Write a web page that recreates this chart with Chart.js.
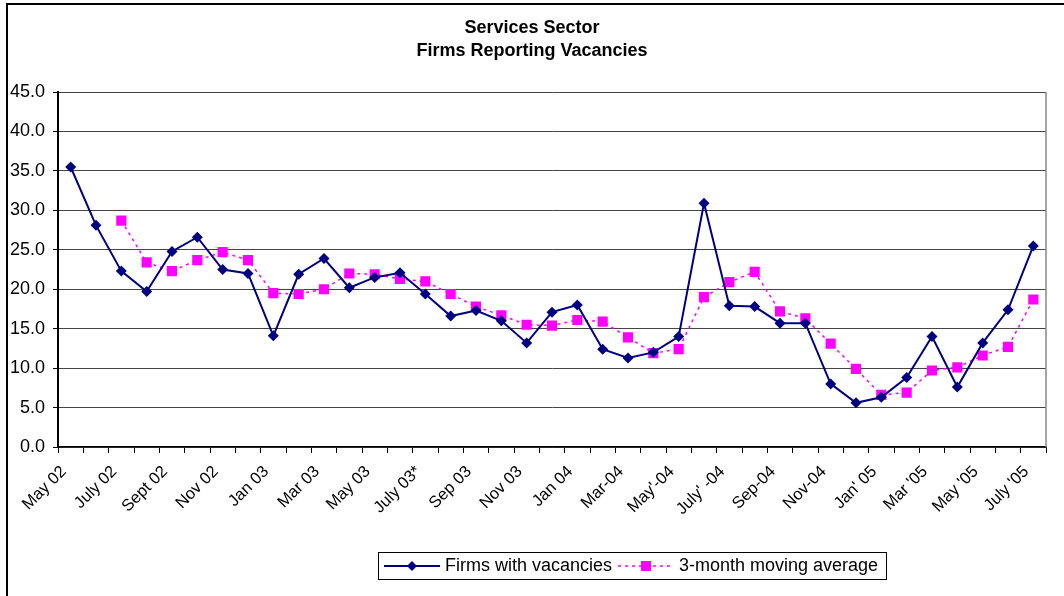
<!DOCTYPE html>
<html>
<head>
<meta charset="utf-8">
<script src="https://cdn.jsdelivr.net/npm/chart.js@4"></script>
<style>
  body { margin: 0; background: #fff; }
  #wrap { width: 1064px; height: 596px; position: relative; }
</style>
</head>
<body>
<div id="wrap"><canvas id="myChart" width="1064" height="596"></canvas></div>
<script>
// months, May 02 .. July 05 (only every second one is labelled on the axis)
var months = ["May 02", "June 02", "July 02", "Aug 02", "Sept 02", "Oct 02", "Nov 02", "Dec 02",
  "Jan 03", "Feb 03", "Mar 03", "Apr 03", "May 03", "June 03", "July 03*", "Aug 03", "Sep 03", "Oct 03",
  "Nov 03", "Dec 03", "Jan 04", "Feb 04", "Mar-04", "Apr-04", "May'-04", "June-04", "July' -04", "Aug-04",
  "Sep-04", "Oct-04", "Nov-04", "Dec-04", "Jan' 05", "Feb '05", "Mar '05", "Apr '05", "May '05", "June '05", "July '05"];

var firmsWithVacancies = [35.5, 28.1, 22.3, 19.7, 24.8, 26.6, 22.5, 22.0, 14.1, 21.9, 23.9, 20.2, 21.5,
  22.1, 19.4, 16.6, 17.3, 16.0, 13.2, 17.1, 18.0, 12.4, 11.3, 12.0, 14.0, 30.9, 17.9, 17.8, 15.7,
  15.7, 8.0, 5.6, 6.3, 8.8, 14.0, 7.6, 13.2, 17.4, 25.5];

var movingAverage = [null, null, 28.7, 23.4, 22.3, 23.7, 24.7, 23.7, 19.5, 19.4, 20.0, 22.0, 21.9,
  21.3, 21.0, 19.4, 17.8, 16.7, 15.5, 15.4, 16.1, 15.9, 13.9, 11.9, 12.4, 19.0, 20.9, 22.2, 17.2,
  16.3, 13.1, 9.9, 6.6, 6.9, 9.7, 10.1, 11.6, 12.7, 18.7];

var yTicks = [0, 5, 10, 15, 20, 25, 30, 35, 40, 45];

var FONT = "'Liberation Sans', Arial, sans-serif";

// little legend sample: line + marker
function legendIcon(color, dash, style) {
    var c = document.createElement('canvas');
    c.width = 56; c.height = 14;
    var g = c.getContext('2d');
    g.strokeStyle = color;
    g.lineWidth = dash ? 1.5 : 2;
    g.setLineDash(dash || []);
    g.beginPath(); g.moveTo(0, 7); g.lineTo(56, 7); g.stroke();
    g.fillStyle = color;
    g.beginPath();
    if (style === 'diamond') {
        g.moveTo(28, 2); g.lineTo(33, 7); g.lineTo(28, 12); g.lineTo(23, 7);
    } else {
        g.rect(23, 2, 10, 10);
    }
    g.fill();
    return c;
}

var framePlugin = {
    id: 'frame',
    beforeDraw: function (chart) {
        var ctx = chart.ctx;
        ctx.save();
        ctx.strokeStyle = '#000';
        ctx.lineWidth = 2;
        ctx.beginPath();
        ctx.moveTo(7, 596); ctx.lineTo(7, 4); ctx.lineTo(1064, 4);
        ctx.stroke();
        ctx.restore();
    },
    afterLayout: function (chart) {
        // title and legend are not centred on the plot in the original
        var lg = chart.legend;
        lg.left += 110; lg.right += 110;
        var tb = chart.titleBlock;
        tb.left += 9; tb.right += 9;
    },
    afterDraw: function (chart) {
        var ctx = chart.ctx, a = chart.chartArea;
        ctx.save();
        ctx.strokeStyle = '#888';
        ctx.lineWidth = 1.5;
        ctx.beginPath();
        ctx.moveTo(a.right, a.top); ctx.lineTo(a.right, a.bottom);
        ctx.stroke();
        var hb = chart.legend.legendHitBoxes;
        if (hb && hb.length) {
            var l = hb[0].left - 10, last = hb[hb.length - 1];
            var r = last.left + last.width + 8;
            ctx.strokeStyle = '#000';
            ctx.lineWidth = 1;
            ctx.strokeRect(Math.round(l) + 0.5, Math.round(hb[0].top - 5) + 0.5, Math.round(r - l), 27);
        }
        ctx.restore();
    }
};

var ctx = document.getElementById('myChart').getContext('2d');
var myChart = new Chart(ctx, {
    type: 'line',
    data: {
        labels: months,
        datasets: [{
            label: "Firms with vacancies",
            data: firmsWithVacancies,
            borderColor: "#000080",
            backgroundColor: "#000080",
            borderWidth: 2,
            pointStyle: 'rectRot',
            pointRadius: 5.5,
            pointBorderWidth: 0,
            tension: 0
        }, {
            label: "3-month moving average",
            data: movingAverage,
            borderColor: "#ff00ff",
            backgroundColor: "#ff00ff",
            borderWidth: 1.5,
            borderDash: [3, 4],
            pointStyle: 'rect',
            pointRadius: 7.2,
            pointBorderWidth: 0,
            tension: 0
        }]
    },
    options: {
        responsive: false,
        animation: false,
        layout: { padding: { left: 0, right: 18, top: 4, bottom: 11 } },
        plugins: {
            title: {
                display: true,
                text: ["Services Sector", "Firms Reporting Vacancies"],
                color: '#000',
                font: { family: FONT, size: 18, weight: 'bold', lineHeight: 1.28 },
                padding: { top: 12.5, bottom: 29.5 }
            },
            legend: {
                position: 'bottom',
                labels: {
                    color: '#000',
                    font: { family: FONT, size: 18 },
                    usePointStyle: true,
                    pointStyleWidth: 48,
                    boxHeight: 14,
                    padding: 10,
                    generateLabels: function (chart) {
                        return [
                            { text: "Firms with vacancies", pointStyle: legendIcon('#000080', null, 'diamond'), datasetIndex: 0, fillStyle: '#000080', strokeStyle: '#000080', lineWidth: 0, hidden: false },
                            { text: "3-month moving average", pointStyle: legendIcon('#ff00ff', [3, 4], 'square'), datasetIndex: 1, fillStyle: '#ff00ff', strokeStyle: '#ff00ff', lineWidth: 0, hidden: false }
                        ];
                    }
                }
            },
            tooltip: { enabled: false }
        },
        scales: {
            x: {
                offset: true,
                grid: { offset: true, drawOnChartArea: false, drawTicks: true, tickLength: 6, tickColor: '#000', tickWidth: 1 },
                border: { color: '#000', width: 1.5 },
                ticks: {
                    autoSkip: false,
                    maxRotation: 45,
                    minRotation: 45,
                    padding: 9,
                    labelOffset: -7,
                    color: '#000',
                    font: { family: FONT, size: 16.5 },
                    callback: function (v, i) { return i % 2 === 0 ? months[i] : ''; }
                },
                afterFit: function (scale) { scale.height = 100; }
            },
            y: {
                min: 0,
                max: 45,
                afterBuildTicks: function (scale) { scale.ticks = yTicks.map(function (v) { return { value: v }; }); },
                grid: { color: '#444', lineWidth: 1, tickLength: 5, tickColor: '#000' },
                border: { color: '#000', width: 2 },
                ticks: {
                    color: '#000',
                    padding: 8,
                    font: { family: FONT, size: 18 },
                    callback: function (v) { return Number(v).toFixed(1); }
                },
                afterFit: function (scale) { scale.width = 58; }
            }
        }
    },
    plugins: [framePlugin]
});
</script>
</body>
</html>
